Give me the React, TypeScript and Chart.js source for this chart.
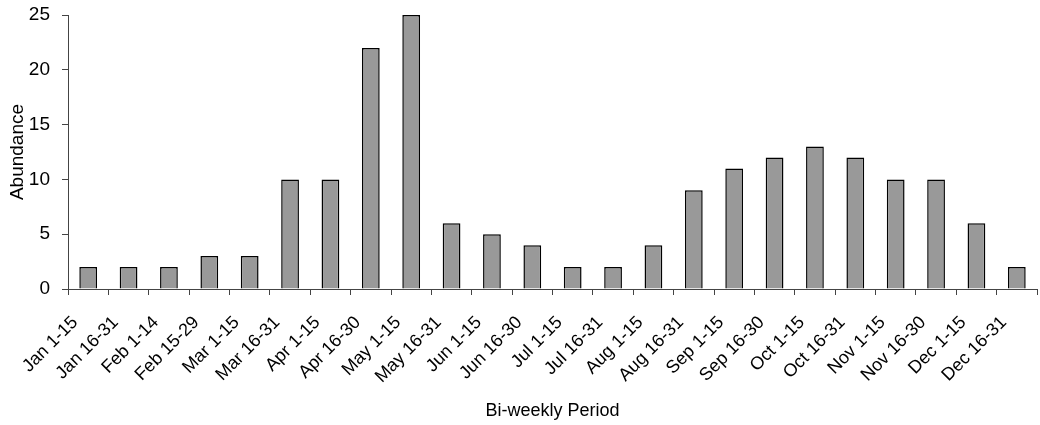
import React, { useEffect, useRef } from "react";
import { Chart, registerables } from "chart.js";

Chart.register(...registerables);

const categories = [
  "Jan 1-15", "Jan 16-31", "Feb 1-14", "Feb 15-29", "Mar 1-15", "Mar 16-31",
  "Apr 1-15", "Apr 16-30", "May 1-15", "May 16-31", "Jun 1-15", "Jun 16-30",
  "Jul 1-15", "Jul 16-31", "Aug 1-15", "Aug 16-31", "Sep 1-15", "Sep 16-30",
  "Oct 1-15", "Oct 16-31", "Nov 1-15", "Nov 16-30", "Dec 1-15", "Dec 16-31",
];

const abundance = [2, 2, 2, 3, 3, 10, 10, 22, 25, 6, 5, 4, 2, 2, 4, 9, 11, 12, 13, 12, 10, 10, 6, 2];

const yTicks = [0, 5, 10, 15, 20, 25];

const xTitle = "Bi-weekly Period";
const yTitle = "Abundance";

export default function App() {
  const ref = useRef<HTMLCanvasElement | null>(null);

  useEffect(() => {
    document.body.style.margin = "0";
    const canvas = ref.current;
    if (!canvas) return;
    const font = "'Liberation Sans', Arial, sans-serif";
    const chart = new Chart(canvas, {
      type: "bar",
      data: {
        labels: categories,
        datasets: [
          {
            label: yTitle,
            data: abundance,
            backgroundColor: "#999999",
            borderColor: "#000000",
            borderWidth: 1.5,
            categoryPercentage: 1,
            barPercentage: 0.44,
          },
        ],
      },
      options: {
        responsive: false,
        animation: false,
        devicePixelRatio: 1,
        layout: { padding: { top: 15, right: 3, left: 0, bottom: 0 } },
        plugins: {
          legend: { display: false },
          tooltip: { enabled: false },
        },
        scales: {
          x: {
            offset: true,
            grid: {
              display: true,
              drawOnChartArea: false,
              drawTicks: true,
              tickLength: 6,
              color: "#444444",
              offset: true,
            },
            border: { display: true, color: "#444444", width: 1 },
            ticks: {
              minRotation: 45,
              maxRotation: 45,
              autoSkip: false,
              color: "#000000",
              font: { family: font, size: 18 },
              padding: 17,
              labelOffset: -13,
            },
            title: {
              display: true,
              text: xTitle,
              color: "#000000",
              font: { family: font, size: 18 },
              padding: { top: 0, bottom: 3 },
            },
            afterFit: (scale: any) => {
              scale.height = 136;
              scale.paddingLeft = 0;
              scale.paddingRight = 0;
              scale.paddingTop = 0;
              scale.paddingBottom = 0;
            },
          },
          y: {
            min: 0,
            max: 25,
            afterBuildTicks: (scale: any) => {
              scale.ticks = yTicks.map((v) => ({ value: v }));
            },
            grid: {
              display: true,
              drawOnChartArea: false,
              drawTicks: true,
              tickLength: 6,
              color: "#444444",
            },
            border: { display: true, color: "#444444", width: 1 },
            ticks: {
              color: "#000000",
              font: { family: font, size: 19 },
              padding: 12,
            },
            title: {
              display: true,
              text: yTitle,
              color: "#000000",
              font: { family: font, size: 19 },
              padding: { top: 6, bottom: 0 },
            },
            afterFit: (scale: any) => {
              scale.width = 68;
              scale.paddingLeft = 0;
              scale.paddingRight = 0;
              scale.paddingTop = 0;
              scale.paddingBottom = 0;
            },
          },
        },
      },
    });
    return () => chart.destroy();
  }, []);

  return (
    <div style={{ width: 1040, height: 425, position: "relative" }}>
      <canvas ref={ref} width={1040} height={425} style={{ display: "block" }} />
    </div>
  );
}
